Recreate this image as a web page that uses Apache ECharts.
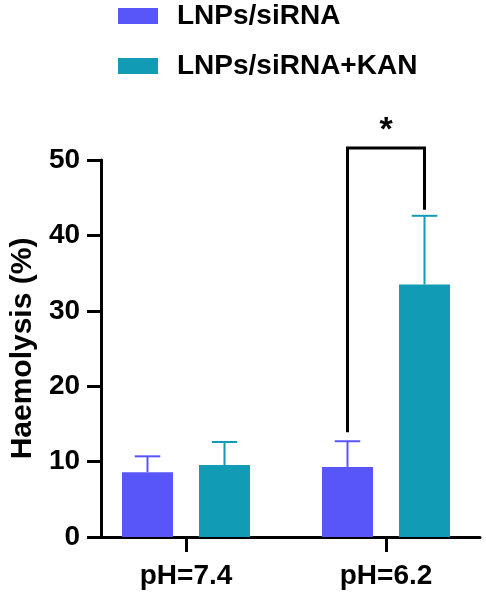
<!DOCTYPE html>
<html>
<head>
<meta charset="utf-8">
<script src="https://cdn.jsdelivr.net/npm/echarts@6/dist/echarts.min.js"></script>
<style>
  html, body { margin: 0; padding: 0; background: #fff; }
  #chart { width: 486px; height: 594px; }
</style>
</head>
<body>
<div id="chart"></div>
<script>
// data
const categories = ["pH=7.4", "pH=6.2"];
const seriesNames = ["LNPs/siRNA", "LNPs/siRNA+KAN"];
const siRNAMean = [8.6, 9.3];
const siRNAErr = [2.1, 3.4];
const kanMean = [9.55, 33.5];
const kanErr = [3.05, 9.1];
// significance bracket: category, left foot, right foot, top (in % units)
const bracket = [[1, 13.9, 43.4, 51.6]];
const bracketLabel = "*";

const colors = ["#5856F8", "#119BB4"];
const font = "'Liberation Sans', Arial, sans-serif";
const barW = 51;
const barGapPx = 26;
const half = (barW + barGapPx) / 2;

const chart = echarts.init(document.getElementById("chart"));

function errorSeries(mean, err, color, offset) {
  return {
    type: "custom",
    xAxisIndex: 1,
    yAxisIndex: 1,
    silent: true,
    z: 1,
    data: mean.map((m, i) => [i, m, err[i]]),
    renderItem: function (params, api) {
      const base = api.coord([api.value(0), api.value(1)]);
      const tip = api.coord([api.value(0), api.value(1) + api.value(2)]);
      const x = base[0] + offset;
      const cap = barW / 4;
      return {
        type: "group",
        children: [
          { type: "line", shape: { x1: x, y1: base[1], x2: x, y2: tip[1] },
            style: { stroke: color, lineWidth: 2 } },
          { type: "line", shape: { x1: x - cap, y1: tip[1], x2: x + cap, y2: tip[1] },
            style: { stroke: color, lineWidth: 2 } }
        ]
      };
    }
  };
}

const option = {
  animation: false,
  color: colors,
  legend: {
    orient: "vertical",
    left: 113,
    top: -3,
    itemWidth: 40,
    itemHeight: 16,
    itemGap: 22,
    icon: "rect",
    data: seriesNames,
    textStyle: { fontFamily: font, fontWeight: "bold", fontSize: 28, color: "#000", padding: [0, 0, 0, 14], lineHeight: 28 }
  },
  grid: [
    // axis-line grid
    { left: 97, width: 383, top: 160, height: 377 },
    // bar grid, wider so the categories sit like in the figure
    { left: 86, width: 404, top: 160, height: 377 }
  ],
  xAxis: [
    {
      gridIndex: 0, type: "value", min: 0, max: 1,
      axisLine: { show: true, onZero: false, lineStyle: { color: "#000", width: 3 } },
      axisTick: { show: false }, axisLabel: { show: false }, splitLine: { show: false }
    },
    {
      gridIndex: 1, type: "category", data: categories,
      axisLine: { show: false },
      axisTick: { show: true, alignWithLabel: true, length: 15, lineStyle: { color: "#000", width: 3 } },
      axisLabel: { margin: 25, fontFamily: font, fontWeight: "bold", fontSize: 28, color: "#000" },
      splitLine: { show: false }
    }
  ],
  yAxis: [
    {
      gridIndex: 0, type: "value", min: 0, max: 50, interval: 10,
      name: "Haemolysis (%)", nameLocation: "middle", nameGap: 59,
      nameTextStyle: { fontFamily: font, fontWeight: "bold", fontSize: 30, color: "#000" },
      axisLine: { show: true, lineStyle: { color: "#000", width: 3 } },
      axisTick: { show: true, length: 14, lineStyle: { color: "#000", width: 3 } },
      axisLabel: { margin: 21, fontFamily: font, fontWeight: "bold", fontSize: 28, color: "#000" },
      splitLine: { show: false }
    },
    {
      gridIndex: 1, type: "value", min: 0, max: 50, show: false
    }
  ],
  series: [
    { name: seriesNames[0], type: "bar", xAxisIndex: 1, yAxisIndex: 1, data: siRNAMean,
      barWidth: barW, barGap: (barGapPx / barW * 100) + "%", z: 2,
      itemStyle: { color: colors[0] } },
    { name: seriesNames[1], type: "bar", xAxisIndex: 1, yAxisIndex: 1, data: kanMean,
      barWidth: barW, z: 2,
      itemStyle: { color: colors[1] } },
    errorSeries(siRNAMean, siRNAErr, colors[0], -half),
    errorSeries(kanMean, kanErr, colors[1], half),
    {
      type: "custom",
      xAxisIndex: 1,
      yAxisIndex: 1,
      silent: true,
      clip: false,
      z: 3,
      data: bracket,
      renderItem: function (params, api) {
        const c = api.value(0);
        const top = api.coord([c, api.value(3)]);
        const lf = api.coord([c, api.value(1)]);
        const rf = api.coord([c, api.value(2)]);
        const xl = top[0] - half, xr = top[0] + half;
        return {
          type: "group",
          children: [
            { type: "polyline",
              shape: { points: [[xl, lf[1]], [xl, top[1]], [xr, top[1]], [xr, rf[1]]] },
              style: { stroke: "#000", lineWidth: 3, fill: null } },
            { type: "text",
              x: top[0], y: top[1],
              style: { text: bracketLabel, fontFamily: font, fontWeight: "bold", fontSize: 34,
                       fill: "#000", align: "center", verticalAlign: "bottom" } }
          ]
        };
      }
    }
  ]
};

chart.setOption(option);
</script>
</body>
</html>
